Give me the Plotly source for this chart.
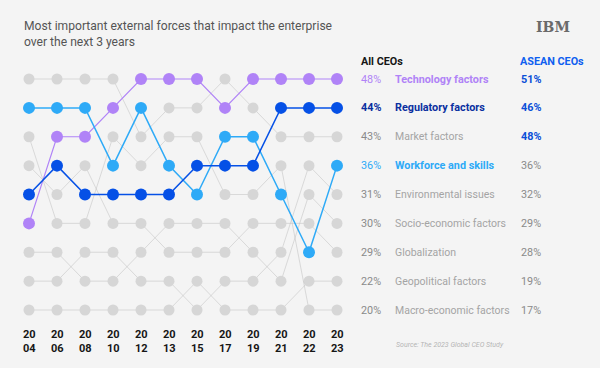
import plotly.graph_objects as go

# ---------------- data ----------------
years = ["2004", "2006", "2008", "2010", "2012", "2013",
         "2015", "2017", "2019", "2021", "2022", "2023"]
year_tick_labels = [y[:2] + "<br>" + y[2:] for y in years]

# rank (1 = most important) of each factor in each study year
rank_technology = [6, 3, 3, 2, 1, 1, 1, 2, 1, 1, 1, 1]
rank_regulatory = [5, 4, 5, 5, 5, 5, 4, 4, 4, 2, 2, 2]
rank_workforce = [2, 2, 2, 4, 2, 4, 5, 3, 3, 5, 7, 4]
rank_market = [1, 1, 1, 1, 3, 2, 2, 1, 2, 3, 3, 3]
rank_environmental = [8, 8, 7, 7, 8, 8, 9, 8, 8, 7, 4, 5]
rank_socioeconomic = [7, 7, 8, 8, 7, 6, 6, 6, 7, 8, 5, 6]
rank_globalization = [4, 5, 4, 6, 6, 7, 7, 7, 6, 6, 6, 7]
rank_geopolitical = [9, 9, 9, 9, 9, 9, 8, 9, 9, 9, 8, 8]
rank_macroeconomic = [3, 6, 6, 3, 4, 3, 3, 5, 5, 4, 9, 9]

factor_labels = ["Technology factors", "Regulatory factors", "Market factors",
                 "Workforce and skills", "Environmental issues",
                 "Socio-economic factors", "Globalization", "Geopolitical factors",
                 "Macro-economic factors"]
all_ceos_pct = [48, 44, 43, 36, 31, 30, 29, 22, 20]
asean_ceos_pct = [51, 46, 48, 36, 32, 29, 28, 19, 17]

# ---------------- styling ----------------
FONT = "Roboto"
BG = "#f4f4f4"
PURPLE = "#b083f7"
DARKBLUE = "#0550e6"
CYAN = "#2eaaf7"
GREY_DOT = "#d6d6d6"
GREY_LINE = "rgba(190,190,190,0.5)"

x_idx = list(range(len(years)))

fig = go.Figure()

grey_series = [rank_market, rank_environmental, rank_socioeconomic,
               rank_globalization, rank_geopolitical, rank_macroeconomic]
for ranks in grey_series:
    fig.add_trace(go.Scatter(
        x=x_idx, y=ranks, mode="lines+markers",
        line=dict(color=GREY_LINE, width=1),
        marker=dict(color=GREY_DOT, size=11, line=dict(width=0)),
        hoverinfo="skip", showlegend=False))

for ranks, col, lw in [(rank_technology, PURPLE, 1.2),
                       (rank_workforce, CYAN, 1.5),
                       (rank_regulatory, DARKBLUE, 1.5)]:
    fig.add_trace(go.Scatter(
        x=x_idx, y=ranks, mode="lines+markers",
        line=dict(color=col, width=lw),
        marker=dict(color=col, size=12, line=dict(width=0)),
        showlegend=False))

W, H = 600, 368
# pixel geometry of the rank grid
X0_PX, DX_PX = 29, 28.0
Y0_PX, DY_PX = 79, 28.875
x_range = [-X0_PX / DX_PX, (W - X0_PX) / DX_PX]
y_range = [1 + (H - Y0_PX) / DY_PX, 1 - Y0_PX / DY_PX]


def px_x(p):
    return p / W


def px_y(p):
    return 1 - p / H


TS = 10.8
TS_GREY = 10.5
ann = []
# title
ann.append(dict(text="Most important external forces that impact the enterprise<br>over the next 3 years",
                x=px_x(22), y=px_y(17), xref="paper", yref="paper",
                xanchor="left", yanchor="top", align="left", showarrow=False,
                font=dict(family=FONT, size=12.1, color="#555555")))
# logo text
ann.append(dict(text="<b>IBM</b>", x=px_x(553), y=px_y(27), xref="paper", yref="paper",
                xanchor="center", yanchor="middle", showarrow=False,
                font=dict(family="DejaVu Serif", size=14, color="#6a6a6a")))
# headers
ann.append(dict(text="<b>All CEOs</b>", x=px_x(359), y=px_y(61), xref="paper", yref="paper",
                xanchor="left", yanchor="middle", showarrow=False,
                font=dict(family=FONT, size=TS, color="#161616")))
ann.append(dict(text="<b>ASEAN CEOs</b>", x=px_x(518), y=px_y(61), xref="paper", yref="paper",
                xanchor="left", yanchor="middle", showarrow=False,
                font=dict(family=FONT, size=TS, color="#0f5ff0")))

styles = {
    0: (PURPLE, PURPLE, False, True),
    1: ("#0a2fa0", "#0a2fa0", True, True),
    3: (CYAN, CYAN, False, True),
}
asean_bold = {0: "#0a4fd8", 1: "#0a4fd8", 2: "#0a4fd8"}
for i, (lab, p_all, p_as) in enumerate(zip(factor_labels, all_ceos_pct, asean_ceos_pct)):
    rank = i + 1
    pc, lc, pbold, lbold = styles.get(i, ("#8a8a8a", "#a4a4a4", False, False))
    ptxt = f"{p_all}%"
    ltxt = lab
    if pbold:
        ptxt = f"<b>{ptxt}</b>"
    if lbold:
        ltxt = f"<b>{ltxt}</b>"
    ann.append(dict(text=ptxt, x=px_x(359), y=rank, xref="paper", yref="y",
                    xanchor="left", yanchor="middle", showarrow=False,
                    font=dict(family=FONT, size=TS, color=pc)))
    ann.append(dict(text=ltxt, x=px_x(393), y=rank, xref="paper", yref="y",
                    xanchor="left", yanchor="middle", showarrow=False,
                    font=dict(family=FONT, size=TS if lbold else TS_GREY, color=lc)))
    atxt = f"{p_as}%"
    acol = "#8a8a8a"
    if i in asean_bold:
        atxt = f"<b>{atxt}</b>"
        acol = asean_bold[i]
    ann.append(dict(text=atxt, x=px_x(519), y=rank, xref="paper", yref="y",
                    xanchor="left", yanchor="middle", showarrow=False,
                    font=dict(family=FONT, size=TS, color=acol)))

# year labels
for i, t in enumerate(year_tick_labels):
    ann.append(dict(text=f"<b>{t}</b>", x=i, y=px_y(341), xref="x", yref="paper",
                    xanchor="center", yanchor="middle", showarrow=False,
                    font=dict(family=FONT, size=11, color="#161616")))

ann.append(dict(text="<i>Source: The 2023 Global CEO Study</i>", x=px_x(506), y=px_y(345),
                xref="paper", yref="paper", xanchor="right", yanchor="middle",
                showarrow=False, font=dict(family=FONT, size=7, color="#b4b4b4")))

fig.update_layout(
    width=W, height=H, autosize=False,
    margin=dict(l=0, r=0, t=0, b=0, pad=0),
    paper_bgcolor=BG, plot_bgcolor=BG,
    xaxis=dict(range=x_range, visible=False, fixedrange=True),
    yaxis=dict(range=y_range, visible=False, fixedrange=True),
    annotations=ann,
    showlegend=False,
)

fig.write_html("out.html", config={"displayModeBar": False},
               post_script="document.body.style.margin='0';document.body.style.overflow='hidden';")
